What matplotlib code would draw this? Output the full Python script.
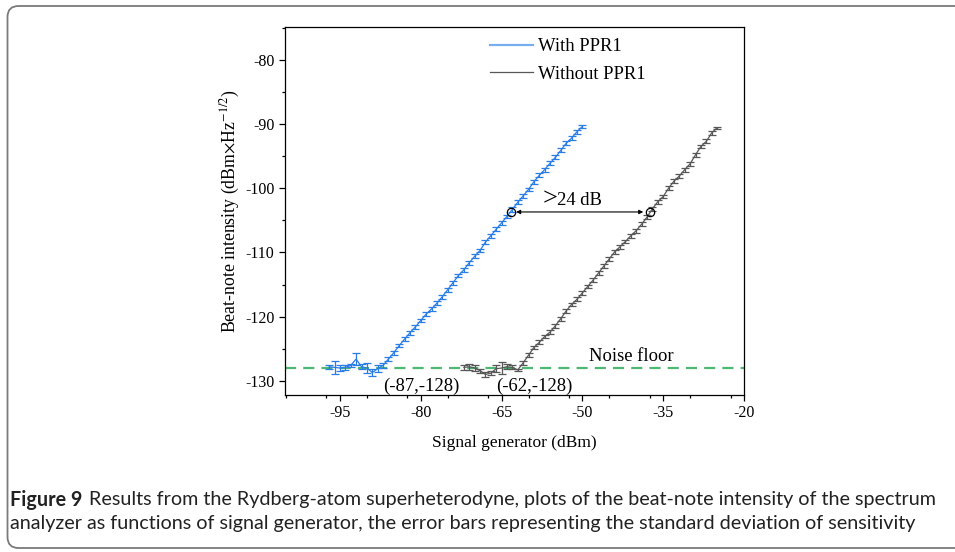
import matplotlib
matplotlib.use("Agg")
import matplotlib.pyplot as plt
from matplotlib.patches import PathPatch
from matplotlib.path import Path
from matplotlib.ticker import MultipleLocator

# ---------------- data ----------------
with_x = list(range(-97, -49))
with_y = [-127.8, -127.9, -128.0, -127.9, -127.6, -126.6, -127.8, -128.0, -128.7, -128.1,
          -127.6, -126.6, -125.6, -124.5, -123.5, -122.5, -121.6, -120.6, -119.6, -118.8,
          -117.9, -116.9, -115.8, -114.7, -113.6, -112.7, -111.6, -110.6, -109.7, -108.4,
          -107.4, -106.4, -105.4, -104.4, -103.3, -102.2, -101.2, -100.2, -99.0, -98.0,
          -97.1, -96.1, -95.2, -94.1, -93.0, -92.2, -91.2, -90.4]
with_err = [0.3, 1.0, 0.4, 0.4, 0.3, 1.0, 0.4, 0.8, 0.5, 0.5,
            0.4, 0.3, 0.3, 0.3, 0.3, 0.3, 0.3, 0.3, 0.3, 0.3,
            0.3, 0.3, 0.3, 0.3, 0.3, 0.3, 0.3, 0.3, 0.3, 0.3,
            0.3, 0.3, 0.3, 0.3, 0.4, 0.3, 0.3, 0.3, 0.3, 0.3,
            0.3, 0.3, 0.3, 0.3, 0.3, 0.3, 0.3, 0.2]

without_x = list(range(-72, -24))
without_y = [-127.9, -127.8, -128.0, -128.4, -129.0, -128.8, -128.1, -128.0, -127.8, -127.9,
             -128.3, -127.2, -126.0, -124.8, -124.0, -123.1, -122.4, -121.4, -120.3, -119.1,
             -118.1, -117.3, -116.3, -115.3, -114.3, -113.2, -112.1, -111.0, -109.9, -109.1,
             -108.3, -107.4, -106.6, -105.6, -104.5, -103.2, -102.1, -101.3, -100.0, -98.9,
             -98.1, -97.1, -96.2, -94.8, -93.5, -92.7, -91.4, -90.6]
without_err = [0.4, 0.5, 0.4, 0.3, 0.4, 0.3, 0.5, 0.9, 0.4, 0.3,
               0.2, 0.3, 0.3, 0.3, 0.3, 0.3, 0.3, 0.3, 0.3, 0.3,
               0.3, 0.3, 0.3, 0.3, 0.3, 0.3, 0.3, 0.3, 0.3, 0.3,
               0.3, 0.3, 0.3, 0.3, 0.3, 0.3, 0.3, 0.3, 0.3, 0.3,
               0.3, 0.3, 0.3, 0.3, 0.3, 0.3, 0.3, 0.2]

noise_floor = -128
circle_x = [-63.3, -37.5]
circle_y = [-103.7, -103.7]
gap_label = "24 dB"
knee_labels = ["(-87,-128)", "(-62,-128)"]
knee_label_x = [-86.9, -66.0]
knee_label_y = [-130.9, -130.9]

x_ticks = [-95, -80, -65, -50, -35, -20]
y_ticks = [-80, -90, -100, -110, -120, -130]

caption_bold = "Figure 9"
caption_line1 = "Results from the Rydberg-atom superheterodyne, plots of the beat-note intensity of the spectrum"
caption_line2 = "analyzer as functions of signal generator, the error bars representing the standard deviation of sensitivity"

# ---------------- style ----------------
plt.rcParams['font.family'] = ['Liberation Serif', 'DejaVu Serif']
plt.rcParams['mathtext.fontset'] = 'stix'

BLUE = '#2a7de6'
GRAY = '#575757'
GREEN = '#4cb873'

W, H = 955, 552
fig = plt.figure(figsize=(W / 100, H / 100), dpi=100)

# frame (pixel coords, origin bottom-left) -> inches
L, T, B, r = 7.5, H - 6.0, H - 548.0, 11.0
R = W + 20
verts = [(R, T), (L + r, T), (L, T), (L, T - r), (L, B + r), (L, B), (L + r, B), (R, B)]
codes = [Path.MOVETO, Path.LINETO, Path.CURVE3, Path.CURVE3, Path.LINETO,
         Path.CURVE3, Path.CURVE3, Path.LINETO]
verts = [(x / 100, y / 100) for x, y in verts]
fig.patches.append(PathPatch(Path(verts, codes), transform=fig.dpi_scale_trans,
                             fill=False, edgecolor='#7a7a7a', linewidth=1.3))

ax = fig.add_axes([285 / W, 1 - 395 / H, (744 - 285) / W, (395 - 27) / H])
ax.set_xlim(-105.2, -20)
ax.set_ylim(-132.2, -74.9)

ax.axhline(noise_floor, color=GREEN, lw=1.6, dashes=(5, 3.2), zorder=1)

ax.errorbar(with_x, with_y, yerr=with_err, color=BLUE, ecolor=BLUE, lw=0.9,
            elinewidth=0.9, capsize=3.2, capthick=0.9, zorder=3)
ax.errorbar(without_x, without_y, yerr=without_err, color=GRAY, ecolor=GRAY, lw=0.9,
            elinewidth=0.9, capsize=3.2, capthick=0.9, zorder=3)

# legend proxies
l1, = ax.plot([], [], color='#78aef0', lw=1.6)
l2, = ax.plot([], [], color=GRAY, lw=0.9)
ax.legend([l1, l2], ["With PPR1", "Without PPR1"], loc='upper left',
          bbox_to_anchor=(0.4466, 0.970), frameon=False, fontsize=13.4,
          handlelength=2.3, handletextpad=0.3, labelspacing=0.56, borderpad=0,
          borderaxespad=0)

ax.plot(circle_x, circle_y, 'o', mfc='none', mec='black', ms=6, mew=0.9, zorder=5)
ax.annotate('', xy=(circle_x[0] + 1.0, circle_y[0]), xytext=(circle_x[1] - 1.2, circle_y[1]),
            arrowprops=dict(arrowstyle='<|-|>', color='black', lw=0.8,
                            mutation_scale=6, shrinkA=0, shrinkB=0), zorder=5)
ax.text(-57.4, -101.8, ">", fontsize=19, va='center', ha='left')
ax.text(-54.8, -101.9, gap_label, fontsize=13.4, va='center', ha='left')
ax.text(-48.8, -126.2, "Noise floor", fontsize=13.4, va='center', ha='left')
for lab, lx, ly in zip(knee_labels, knee_label_x, knee_label_y):
    ax.text(lx, ly, lab, fontsize=13.4, va='center', ha='left')

ax.set_xticks(x_ticks)
ax.set_xticklabels([str(t) for t in x_ticks])
ax.set_yticks(y_ticks)
ax.set_yticklabels([str(t) for t in y_ticks])
ax.xaxis.set_minor_locator(MultipleLocator(7.5))
ax.yaxis.set_minor_locator(MultipleLocator(5))
ax.tick_params(which='major', direction='out', length=4, width=0.9, labelsize=11.5)
ax.tick_params(which='minor', direction='out', length=2.5, width=0.9)
for s in ax.spines.values():
    s.set_linewidth(0.9)

ax.set_xlabel("Signal generator (dBm)", fontsize=12.5, labelpad=10)
ax.set_ylabel(r"Beat-note intensity (dBm$\times$Hz$^{-1/2}$)", fontsize=12.8, labelpad=2)

# caption
cap_font = 'Lato'
cap_size = 14.2
t_b = fig.text(10 / W, 1 - 500 / H, caption_bold, fontsize=cap_size, fontweight='bold',
               family=cap_font, va='center', ha='left', color='#222222')
fig.canvas.draw()
bb = t_b.get_window_extent()
fig.text((bb.x1 + 7) / W, 1 - 500 / H, caption_line1, fontsize=cap_size,
         family=cap_font, va='center', ha='left', color='#222222')
fig.text(10 / W, 1 - 523 / H, caption_line2, fontsize=cap_size,
         family=cap_font, va='center', ha='left', color='#222222')

fig.savefig("out.png", dpi=100)
